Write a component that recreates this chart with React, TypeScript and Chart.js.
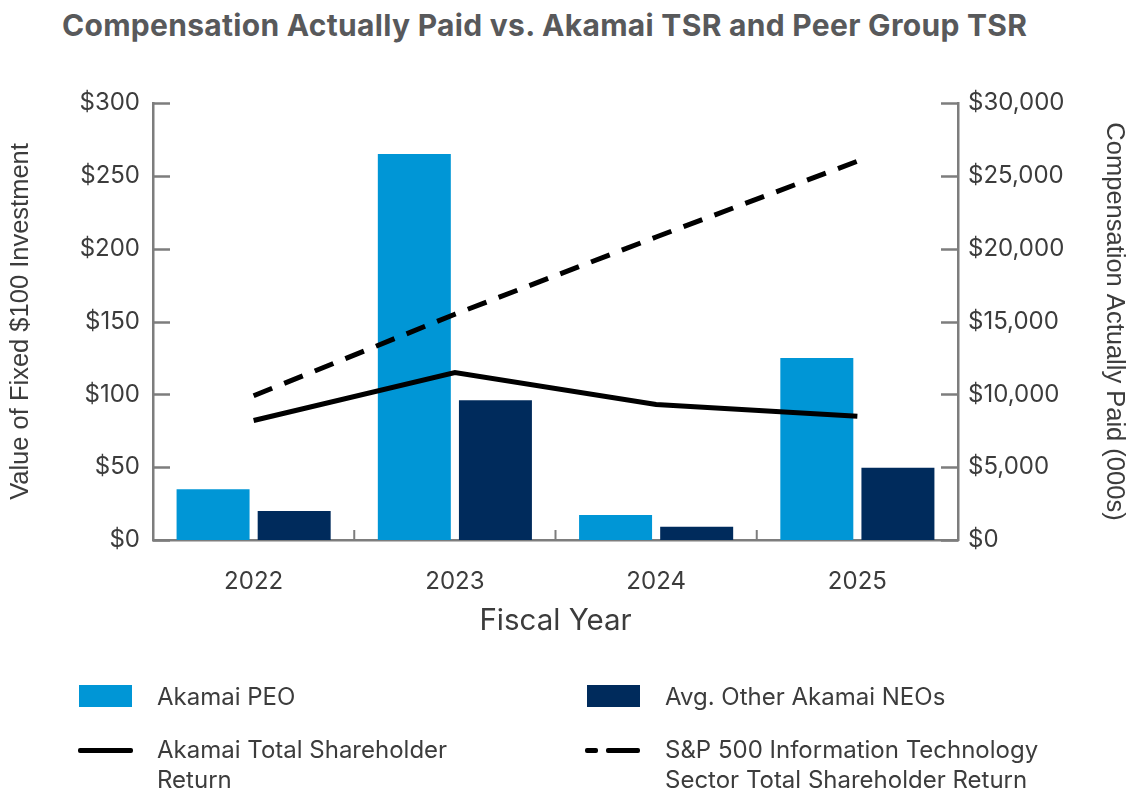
import React, { useEffect, useRef } from "react";
import { Chart, registerables } from "chart.js";

Chart.register(...registerables);

const years = ["2022", "2023", "2024", "2025"];
const peoCAP = [3480, 26500, 1720, 12500];
const neoCAP = [1990, 9600, 915, 4960];
const akamaiTSR = [82, 115, 93, 85];
const sectorTSR = [99, 155, 208, 260];
const leftTicks = [0, 50, 100, 150, 200, 250, 300];
const rightTicks = [0, 5000, 10000, 15000, 20000, 25000, 30000];

const FONT = "Inter, 'Liberation Sans', sans-serif";
const TITLE_FONT = "'Liberation Sans', Arial, sans-serif";
const TEXT = "#3c3c3c";
const AXIS = "#7d7d7d";
const PEO_COLOR = "#0096d6";
const NEO_COLOR = "#002b5c";

const axisTickPlugin = {
  id: "axisTicks",
  afterDatasetsDraw(chart: any) {
    const { ctx, chartArea, scales } = chart;
    ctx.save();
    ctx.strokeStyle = AXIS;
    ctx.lineWidth = 2.5;
    const y = scales.y;
    y.ticks.forEach((t: any) => {
      const py = Math.round(y.getPixelForValue(t.value)) + 0.5;
      ctx.beginPath();
      ctx.moveTo(chartArea.left, py);
      ctx.lineTo(chartArea.left + 17, py);
      ctx.stroke();
    });
    const y1 = scales.y1;
    y1.ticks.forEach((t: any) => {
      const py = Math.round(y1.getPixelForValue(t.value)) + 0.5;
      ctx.beginPath();
      ctx.moveTo(chartArea.right - 17, py);
      ctx.lineTo(chartArea.right, py);
      ctx.stroke();
    });
    const x = scales.x;
    ctx.lineWidth = 2;
    for (let i = 1; i < years.length; i++) {
      const px = (x.getPixelForValue(i - 1) + x.getPixelForValue(i)) / 2;
      ctx.beginPath();
      ctx.moveTo(px, chartArea.bottom);
      ctx.lineTo(px, chartArea.bottom - 10);
      ctx.stroke();
    }
    ctx.restore();
  },
};

export default function App() {
  const ref = useRef<HTMLCanvasElement | null>(null);

  useEffect(() => {
    if (!ref.current) return;
    const chart = new Chart(ref.current, {
      type: "bar",
      data: {
        labels: years,
        datasets: [
          {
            type: "line",
            label: "Akamai Total Shareholder Return",
            data: akamaiTSR,
            yAxisID: "y",
            borderColor: "#000",
            borderWidth: 5,
            pointRadius: 0,
            tension: 0,
            order: 0,
          } as any,
          {
            type: "line",
            label: "S&P 500 Information Technology Sector Total Shareholder Return",
            data: sectorTSR,
            yAxisID: "y",
            borderColor: "#000",
            borderWidth: 5,
            borderDash: [20, 13],
            pointRadius: 0,
            tension: 0,
            order: 0,
          } as any,
          {
            label: "Akamai PEO",
            data: peoCAP,
            yAxisID: "y1",
            backgroundColor: PEO_COLOR,
            categoryPercentage: 0.806,
            barPercentage: 0.9,
            order: 1,
          },
          {
            label: "Avg. Other Akamai NEOs",
            data: neoCAP,
            yAxisID: "y1",
            backgroundColor: NEO_COLOR,
            categoryPercentage: 0.806,
            barPercentage: 0.9,
            order: 1,
          },
        ],
      },
      options: {
        animation: false,
        responsive: false,
        maintainAspectRatio: false,
        layout: { padding: { top: 103, bottom: 155, left: 0, right: 0 } },
        plugins: {
          legend: { display: false },
          title: { display: false },
          tooltip: { enabled: false },
        },
        scales: {
          x: {
            offset: true,
            grid: { display: false, drawTicks: false },
            border: { display: true, color: AXIS, width: 2.5 },
            ticks: {
              color: TEXT,
              font: { family: FONT, size: 24 },
              padding: 27,
            },
            title: {
              display: true,
              text: "Fiscal Year",
              color: TEXT,
              font: { family: FONT, size: 29.5 },
              padding: { top: 0, bottom: 1 },
            },
            afterFit: (s: any) => {
              s.height = 100;
            },
          },
          y: {
            position: "left",
            min: 0,
            max: 300,
            afterBuildTicks: (s: any) => {
              s.ticks = leftTicks.map((v) => ({ value: v }));
            },
            grid: { display: false, drawTicks: false },
            border: { display: true, color: AXIS, width: 2.5 },
            ticks: {
              color: TEXT,
              font: { family: FONT, size: 24 },
              padding: 13,
              callback: (v: any) => "$" + v,
            },
            title: {
              display: true,
              text: "Value of Fixed $100 Investment",
              color: TEXT,
              font: { family: TITLE_FONT, size: 25.5 },
              padding: { top: 6, bottom: 0 },
            },
            afterFit: (s: any) => {
              s.width = 153;
            },
          },
          y1: {
            position: "right",
            min: 0,
            max: 30000,
            afterBuildTicks: (s: any) => {
              s.ticks = rightTicks.map((v) => ({ value: v }));
            },
            grid: { display: false, drawTicks: false },
            border: { display: true, color: AXIS, width: 2.5 },
            ticks: {
              color: TEXT,
              font: { family: FONT, size: 24 },
              padding: 10,
              callback: (v: any) => "$" + Number(v).toLocaleString("en-US"),
            },
            title: {
              display: true,
              text: "Compensation Actually Paid (000s)",
              color: TEXT,
              font: { family: TITLE_FONT, size: 25.5 },
              padding: { top: 2, bottom: 0 },
            },
            afterFit: (s: any) => {
              s.width = 173;
            },
          },
        },
      },
      plugins: [axisTickPlugin],
    });
    return () => chart.destroy();
  }, []);

  const legendText: React.CSSProperties = {
    position: "absolute",
    fontFamily: FONT,
    fontSize: 24,
    color: TEXT,
    lineHeight: "30px",
    whiteSpace: "nowrap",
  };

  return (
    <div
      style={{
        position: "absolute",
        left: 0,
        top: 0,
        width: 1131,
        height: 795,
        background: "#fff",
        overflow: "hidden",
      }}
    >
      <div
        style={{
          position: "absolute",
          left: 62,
          top: 7,
          fontFamily: FONT,
          fontWeight: 700,
          fontSize: 30,
          color: "#58595b",
          whiteSpace: "nowrap",
          letterSpacing: "0.3px",
        }}
      >
        Compensation Actually Paid vs. Akamai TSR and Peer Group TSR
      </div>
      <canvas
        ref={ref}
        width={1131}
        height={795}
        style={{ position: "absolute", left: 0, top: 0, width: 1131, height: 795 }}
      />
      <div style={{ position: "absolute", left: 79, top: 685, width: 53, height: 22, background: PEO_COLOR }} />
      <div style={{ ...legendText, left: 157, top: 682 }}>Akamai PEO</div>
      <div style={{ position: "absolute", left: 587, top: 685, width: 53, height: 22, background: NEO_COLOR }} />
      <div style={{ ...legendText, left: 665, top: 682 }}>Avg. Other Akamai NEOs</div>
      <div style={{ position: "absolute", left: 78, top: 748, width: 55, height: 5, background: "#000", borderRadius: 2 }} />
      <div style={{ ...legendText, left: 157, top: 735 }}>
        Akamai Total Shareholder
        <br />
        Return
      </div>
      <div style={{ position: "absolute", left: 585, top: 748, width: 13, height: 5, background: "#000", borderRadius: 2 }} />
      <div style={{ position: "absolute", left: 606, top: 748, width: 34, height: 5, background: "#000", borderRadius: 2 }} />
      <div style={{ ...legendText, left: 665, top: 735 }}>
        S&amp;P 500 Information Technology
        <br />
        Sector Total Shareholder Return
      </div>
    </div>
  );
}
